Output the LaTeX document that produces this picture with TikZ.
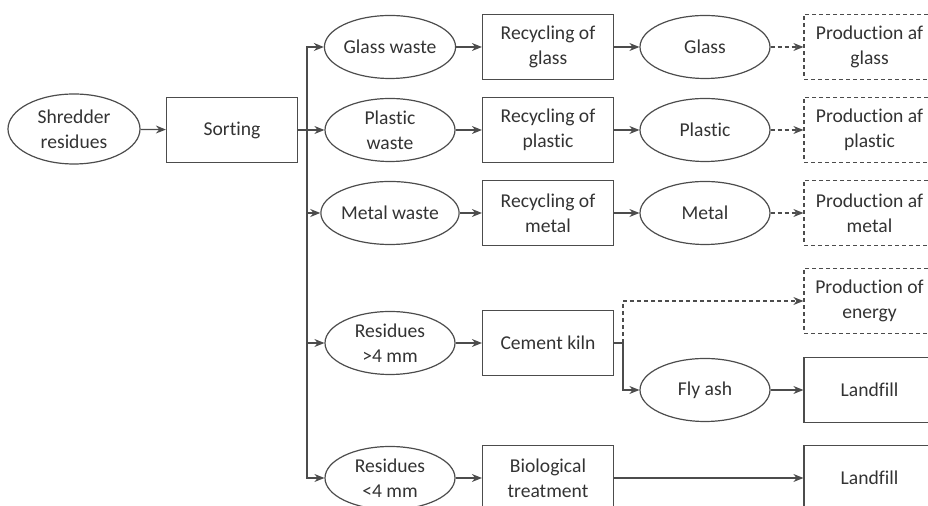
\documentclass[tikz,border=0pt]{standalone}
\usepackage{fontspec}
\setmainfont{Carlito}[RawFeature={-liga;-clig;-calt;-dlig}]
\usetikzlibrary{shapes.geometric,arrows.meta}
\begin{document}
\begin{tikzpicture}[x=0.5pt,y=-0.5pt,
  font=\fontsize{9.8}{12.4}\selectfont,text=black!80,
  con/.style={draw=black!70,line width=0.6pt},
  arr/.style={con,-{Stealth[length=5pt,width=4pt]}},
  dashline/.style={dash pattern=on 2pt off 1.5pt},
  oval/.style={con,ellipse,minimum width=65pt,minimum height=31.5pt,inner sep=0pt,align=center},
  box/.style={con,rectangle,minimum width=65.5pt,minimum height=32.5pt,inner sep=0pt,align=center},
  dbox/.style={box,dashline}]
\clip (0,0) rectangle (928,506);
\node[oval,minimum width=66pt,minimum height=35pt] at (74,129) (shred) {Shredder\\residues};
\node[box] at (232,130) (sort) {Sorting};
\node[oval] at (390,47) (glw) {Glass waste};
\node[oval] at (390,130) (plw) {Plastic\\waste};
\node[oval] at (390,213) (mew) {Metal waste};
\node[oval] at (390,343) (rbig) {Residues\\>4 mm};
\node[oval] at (390,478) (rsmall) {Residues\\<4 mm};
\node[box] at (548,47) (rglass) {Recycling of\\glass};
\node[box] at (548,130) (rplast) {Recycling of\\plastic};
\node[box] at (548,213) (rmetal) {Recycling of\\metal};
\node[box] at (548,343) (kiln) {Cement kiln};
\node[box] at (548,478) (bio) {Biological\\treatment};
\node[oval] at (705,47) (glass) {Glass};
\node[oval] at (705,130) (plastic) {Plastic};
\node[oval] at (705,213) (metal) {Metal};
\node[oval] at (705,390) (fly) {Fly ash};
\node[dbox] at (869.5,47) (pglass) {Production af\\glass};
\node[dbox] at (869.5,130) (pplast) {Production af\\plastic};
\node[dbox] at (869.5,213) (pmetal) {Production af\\metal};
\node[dbox] at (869.5,301) (penergy) {Production of\\energy};
\node[box] at (869.5,390) (land1) {Landfill};
\node[box] at (869.5,478) (land2) {Landfill};
\coordinate (split) at (307,130);
\coordinate (kj) at (623,343);
\draw[arr] (shred) -- (sort);
\draw[arr] (sort) -- (plw);
\draw[arr] (split) |- (glw);
\draw[arr] (split) |- (mew);
\draw[arr] (split) |- (rbig);
\draw[arr] (split) |- (rsmall);
\draw[arr] (glw) -- (rglass);
\draw[arr] (plw) -- (rplast);
\draw[arr] (mew) -- (rmetal);
\draw[arr] (rbig) -- (kiln);
\draw[arr] (rsmall) -- (bio);
\draw[arr] (rglass) -- (glass);
\draw[arr] (rplast) -- (plastic);
\draw[arr] (rmetal) -- (metal);
\draw[arr,dashline] (glass) -- (pglass);
\draw[arr,dashline] (plastic) -- (pplast);
\draw[arr,dashline] (metal) -- (pmetal);
\draw[con] (kiln) -- (kj);
\draw[arr,dashline] (kj) |- (penergy);
\draw[arr] (kj) |- (fly);
\draw[arr] (fly) -- (land1);
\draw[arr] (bio) -- (land2);
\end{tikzpicture}
\end{document}
